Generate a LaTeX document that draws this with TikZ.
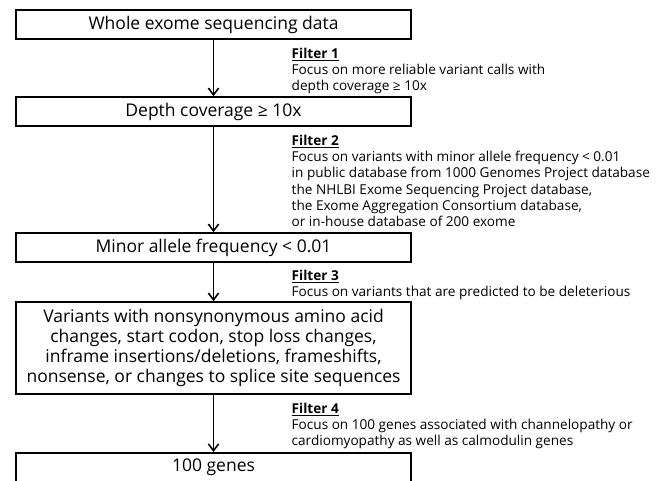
\documentclass[tikz,border=0pt]{standalone}
\usepackage{fontspec}
\setmainfont{Open Sans}
\usetikzlibrary{positioning, arrows.meta}

\begin{document}
\begin{tikzpicture}[
  x=1pt, y=-1pt,
  node distance=56pt,
  stage/.style={draw, line width=1.6pt, font=\fontsize{17.5}{20}\selectfont, align=center, minimum width=395pt, minimum height=29pt, inner sep=3pt},
  note/.style={font=\fontsize{13.6}{16.3}\selectfont, align=left, anchor=north west, inner sep=0pt},
  arrow/.style={-{Straight Barb[length=2.4mm, width=3.6mm, line width=1.6pt]}, line width=1.5pt}]

  \useasboundingbox (0,0) rectangle (665,480);

  \node[stage] (wes) at (213.5,24.5) {Whole exome sequencing data};
  \node[stage, below=56.4pt of wes] (depth) {Depth coverage ≥ 10x};
  \node[stage, below=105.4pt of depth] (maf) {Minor allele frequency < 0.01};
  \node[stage, below=38.4pt of maf, minimum height=92pt] (var) {Variants with nonsynonymous amino acid\\changes, start codon, stop loss changes,\\inframe insertions/deletions, frameshifts,\\nonsense, or changes to splice site sequences};
  \node[stage, below=57.2pt of var] (genes) {100 genes};

  % filter notes beside the arrows
  \node[note] (f1) at ([xshift=78pt, yshift=-8pt]wes.south) {\underline{\textbf{Filter 1}}\\Focus on more reliable variant calls with\\depth coverage ≥ 10x};
  \node[note] (f2) at ([xshift=78pt, yshift=-8pt]depth.south) {\underline{\textbf{Filter 2}}\\Focus on variants with minor allele frequency < 0.01\\in public database from 1000 Genomes Project database\\the NHLBI Exome Sequencing Project database,\\the Exome Aggregation Consortium database,\\or in-house database of 200 exome};
  \node[note] (f3) at ([xshift=78pt, yshift=-7pt]maf.south) {\underline{\textbf{Filter 3}}\\Focus on variants that are predicted to be deleterious};
  \node[note] (f4) at ([xshift=78pt, yshift=-8pt]var.south) {\underline{\textbf{Filter 4}}\\Focus on 100 genes associated with channelopathy or\\cardiomyopathy as well as calmodulin genes};

  \draw[arrow] (wes) -- (depth);
  \draw[arrow] (depth) -- (maf);
  \draw[arrow] (maf) -- (var);
  \draw[arrow] (var) -- (genes);
\end{tikzpicture}
\end{document}
